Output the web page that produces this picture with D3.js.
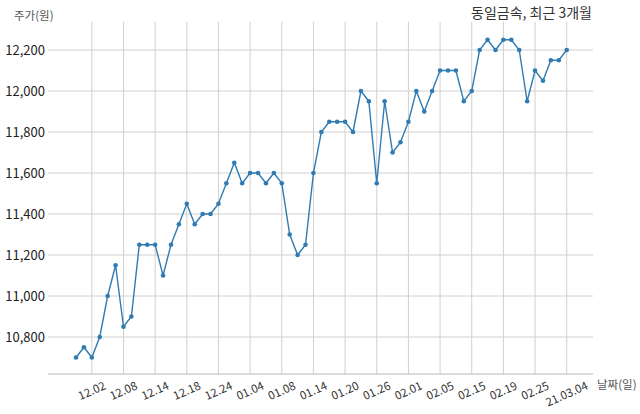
<!DOCTYPE html>
<html><head><meta charset="utf-8">
<script src="https://cdn.jsdelivr.net/npm/d3@7"></script>
<style>body{margin:0;background:#fff;}svg{display:block;font-family:"Noto Sans CJK KR","Noto Sans",sans-serif;}</style>
</head><body><svg id="c" width="640" height="414"></svg>
<script>
const dates = ["11.30","12.01","12.02","12.03","12.04","12.07","12.08","12.09","12.10","12.11","12.14","12.15","12.16","12.17","12.18","12.21","12.22","12.23","12.24","12.28","12.29","12.30","01.04","01.05","01.06","01.07","01.08","01.11","01.12","01.13","01.14","01.15","01.18","01.19","01.20","01.21","01.22","01.25","01.26","01.27","01.28","01.29","02.01","02.02","02.03","02.04","02.05","02.08","02.09","02.10","02.15","02.16","02.17","02.18","02.19","02.22","02.23","02.24","02.25","02.26","03.02","03.03","03.04"];
const prices = [10700,10750,10700,10800,11000,11150,10850,10900,11250,11250,11250,11100,11250,11350,11450,11350,11400,11400,11450,11550,11650,11550,11600,11600,11550,11600,11550,11300,11200,11250,11600,11800,11850,11850,11850,11800,12000,11950,11550,11950,11700,11750,11850,12000,11900,12000,12100,12100,12100,11950,12000,12200,12250,12200,12250,12250,12200,11950,12100,12050,12150,12150,12200];
const tickIdx = [2,6,10,14,18,22,26,30,34,38,42,46,50,54,58,62];
const tickLabels = ["12.02","12.08","12.14","12.18","12.24","01.04","01.08","01.14","01.20","01.26","02.01","02.05","02.15","02.19","02.25","21.03.04"];
const yTicks = [10800,11000,11200,11400,11600,11800,12000,12200];
const title = "동일금속, 최근 3개월";
const yTitle = "주가(원)";
const xTitle = "날짜(일)";

(function(){
const svg = d3.select("#c");
const L = 48, R = 593, T = 22, B = 374;
const x = d3.scaleLinear().domain([0, dates.length - 1]).range([76, 566.7]);
const y = d3.scaleLinear().domain([10800, 12200]).range([337, 50]);

svg.append("g").selectAll("line").data(yTicks).join("line")
  .attr("x1", L).attr("x2", R)
  .attr("y1", d => y(d)).attr("y2", d => y(d))
  .attr("stroke", "#d0d0d0").attr("stroke-width", 1);
svg.append("g").selectAll("line").data(tickIdx).join("line")
  .attr("x1", d => x(d)).attr("x2", d => x(d))
  .attr("y1", T).attr("y2", B)
  .attr("stroke", "#d0d0d0").attr("stroke-width", 1);

svg.append("g").selectAll("text").data(yTicks).join("text")
  .attr("x", 45).attr("y", d => y(d)).attr("dy", "0.36em")
  .attr("text-anchor", "end").attr("font-size", 13).attr("fill", "#222")
  .text(d => d3.format(",")(d));

svg.append("line").attr("x1", L).attr("x2", R).attr("y1", B).attr("y2", B)
  .attr("stroke", "#b8b8b8").attr("stroke-width", 1);

const ang = 24, rad = ang * Math.PI / 180, th = 8.5;
svg.append("g").selectAll("text").data(tickIdx).join("text")
  .attr("text-anchor", "middle").attr("dy", "0.35em").attr("font-size", 11.5).attr("fill", "#333")
  .text((d, i) => tickLabels[i])
  .each(function(d) {
    const w = this.getComputedTextLength();
    const H = w * Math.sin(rad) + th * Math.cos(rad);
    d3.select(this).attr("transform", `translate(${x(d)},${381 + H / 2}) rotate(${-ang})`);
  });

svg.append("path").datum(prices)
  .attr("fill", "none").attr("stroke", "#2f7bb2").attr("stroke-width", 1.4)
  .attr("d", d3.line().x((d, i) => x(i)).y(d => y(d)));
svg.append("g").selectAll("circle").data(prices).join("circle")
  .attr("cx", (d, i) => x(i)).attr("cy", d => y(d)).attr("r", 2.3)
  .attr("fill", "#2f7bb2");

svg.append("text").attr("x", 592).attr("y", 18).attr("text-anchor", "end")
  .attr("font-size", 14).attr("fill", "#333").text(title);
svg.append("text").attr("x", 14).attr("y", 20)
  .attr("font-size", 11.5).attr("fill", "#555").text(yTitle);
svg.append("text").attr("x", 597).attr("y", 389)
  .attr("font-size", 11.5).attr("fill", "#555").text(xTitle);
})();
</script></body></html>
